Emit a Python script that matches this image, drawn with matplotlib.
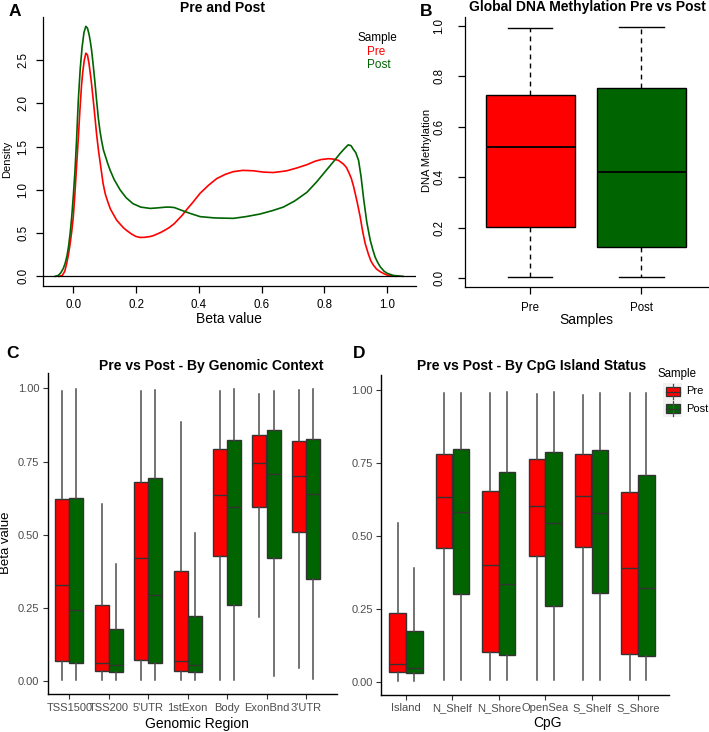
import matplotlib
matplotlib.use('Agg')
import matplotlib.pyplot as plt
from matplotlib.patches import Rectangle
from matplotlib.lines import Line2D

W, H = 709, 732
plt.rcParams['font.family'] = ['Liberation Sans', 'DejaVu Sans']

RED = '#FF0000'
GREEN = '#006400'

# ---------------- data ----------------
# Panel A: density curves (beta value, density)
pre_x = [-0.045, -0.035, -0.027, -0.021, -0.015, -0.01, -0.005, 0.0, 0.005, 0.01, 0.016, 0.021,
         0.026, 0.03, 0.035, 0.04, 0.045, 0.05, 0.055, 0.058, 0.062, 0.066, 0.07,
         0.074, 0.08, 0.085, 0.09, 0.095, 0.102, 0.11, 0.118, 0.127, 0.138, 0.15, 0.16, 0.17,
         0.185, 0.2, 0.212, 0.225, 0.235, 0.245, 0.255, 0.268, 0.28, 0.295, 0.308,
         0.322, 0.335, 0.348, 0.361, 0.382, 0.404, 0.43, 0.457, 0.485, 0.51, 0.54, 0.574,
         0.605, 0.637, 0.66, 0.68, 0.71, 0.744, 0.77, 0.79, 0.813, 0.83, 0.845,
         0.86, 0.87, 0.878, 0.886, 0.893, 0.9, 0.905, 0.91, 0.914, 0.922, 0.93, 0.94, 0.948,
         0.956, 0.966, 0.978, 0.99, 1.0, 1.015, 1.03]
pre_y = [0.0, 0.01, 0.06, 0.15, 0.26, 0.38, 0.52, 0.69, 0.95, 1.25, 1.6, 1.92,
         2.2, 2.36, 2.5, 2.58, 2.56, 2.46, 2.32, 2.23, 2.09, 1.95, 1.8,
         1.65, 1.46, 1.33, 1.2, 1.07, 0.95, 0.86, 0.78, 0.72, 0.65, 0.6, 0.56, 0.53,
         0.49, 0.46, 0.45, 0.45, 0.455, 0.46, 0.47, 0.49, 0.51, 0.54, 0.57,
         0.61, 0.66, 0.71, 0.77, 0.86, 0.96, 1.05, 1.13, 1.18, 1.21, 1.225, 1.22,
         1.205, 1.2, 1.21, 1.22, 1.25, 1.29, 1.33, 1.35, 1.36, 1.355, 1.34,
         1.3, 1.26, 1.2, 1.13, 1.04, 0.93, 0.85, 0.76, 0.69, 0.52, 0.38, 0.26, 0.18,
         0.13, 0.085, 0.053, 0.03, 0.015, 0.005, 0.0]
post_x = [-0.058, -0.048, -0.04, -0.032, -0.026, -0.02, -0.015, -0.01, -0.005, 0.0, 0.005,
          0.01, 0.016, 0.022, 0.028, 0.034, 0.04, 0.045, 0.05, 0.054, 0.058,
          0.062, 0.066, 0.07, 0.074, 0.08, 0.085, 0.09, 0.096, 0.103, 0.11, 0.117, 0.13,
          0.149, 0.168, 0.19, 0.215, 0.245, 0.265, 0.28, 0.295, 0.308, 0.322, 0.34, 0.37,
          0.404, 0.45, 0.51, 0.55, 0.595, 0.635, 0.669, 0.705, 0.744, 0.775, 0.807, 0.83,
          0.85, 0.865, 0.876, 0.885, 0.892, 0.9, 0.909, 0.917, 0.925, 0.935, 0.946, 0.955,
          0.962, 0.97, 0.978, 0.99, 1.0, 1.02, 1.05]
post_y = [0.0, 0.01, 0.04, 0.09, 0.15, 0.24, 0.35, 0.5, 0.69, 0.93, 1.2,
          1.55, 2.04, 2.4, 2.65, 2.82, 2.89, 2.87, 2.8, 2.72, 2.62,
          2.49, 2.35, 2.2, 2.04, 1.82, 1.68, 1.57, 1.46, 1.38, 1.3, 1.23, 1.12,
          1.0, 0.91, 0.84, 0.8, 0.785, 0.79, 0.795, 0.8, 0.8, 0.795, 0.77, 0.73,
          0.69, 0.675, 0.67, 0.69, 0.72, 0.76, 0.8, 0.87, 0.97, 1.09, 1.23, 1.33,
          1.42, 1.48, 1.52, 1.51, 1.47, 1.43, 1.34, 1.15, 0.9, 0.63, 0.42, 0.3,
          0.22, 0.16, 0.11, 0.06, 0.035, 0.01, 0.0]

# Panel B: global boxplot stats
B_samples = ['Pre', 'Post']
B_whislo = [0.005, 0.005]
B_q1 = [0.202, 0.122]
B_med = [0.521, 0.419]
B_q3 = [0.727, 0.754]
B_whishi = [0.993, 0.995]

# Panel C: by genomic context (whislo, q1, med, q3, whishi)
C_regions = ['TSS1500', 'TSS200', "5'UTR", '1stExon', 'Body', 'ExonBnd', "3'UTR"]
C_pre = [(0.004, 0.070, 0.328, 0.621, 0.992),
         (0.005, 0.034, 0.061, 0.262, 0.604),
         (0.004, 0.073, 0.420, 0.679, 0.992),
         (0.004, 0.036, 0.069, 0.376, 0.886),
         (0.004, 0.427, 0.635, 0.794, 0.992),
         (0.220, 0.594, 0.746, 0.841, 0.981),
         (0.044, 0.510, 0.700, 0.820, 0.995)]
C_post = [(0.004, 0.061, 0.242, 0.625, 0.998),
          (0.005, 0.031, 0.055, 0.180, 0.399),
          (0.004, 0.061, 0.293, 0.695, 0.995),
          (0.004, 0.031, 0.056, 0.223, 0.507),
          (0.004, 0.259, 0.596, 0.822, 0.998),
          (0.019, 0.422, 0.709, 0.857, 0.991),
          (0.008, 0.349, 0.638, 0.827, 0.997)]

# Panel D: by CpG island status
D_cpg = ['Island', 'N_Shelf', 'N_Shore', 'OpenSea', 'S_Shelf', 'S_Shore']
D_pre = [(0.002, 0.032, 0.060, 0.237, 0.545),
         (0.006, 0.460, 0.635, 0.781, 0.991),
         (0.005, 0.101, 0.399, 0.654, 0.990),
         (0.005, 0.431, 0.604, 0.765, 0.989),
         (0.006, 0.462, 0.636, 0.781, 0.985),
         (0.005, 0.096, 0.390, 0.650, 0.990)]
D_post = [(0.002, 0.029, 0.048, 0.175, 0.390),
          (0.006, 0.300, 0.584, 0.800, 0.991),
          (0.005, 0.093, 0.335, 0.721, 0.994),
          (0.005, 0.261, 0.545, 0.790, 0.994),
          (0.006, 0.304, 0.580, 0.796, 0.991),
          (0.005, 0.088, 0.321, 0.710, 0.991)]

# ---------------- figure ----------------
fig = plt.figure(figsize=(W / 100, H / 100), dpi=100)


def axes_px(l, t, r, b):
    return fig.add_axes([l / W, 1 - b / H, (r - l) / W, (b - t) / H])


def T(x, y, s, **kw):
    kw.setdefault('ha', 'center')
    kw.setdefault('va', 'center')
    fig.text(x / W, 1 - y / H, s, **kw)


def stats_list(rows):
    return [dict(whislo=r[0], q1=r[1], med=r[2], q3=r[3], whishi=r[4], fliers=[]) for r in rows]


# ---- Panel A ----
axA = axes_px(43, 17, 416, 286)
axA.plot(pre_x, pre_y, color=RED, lw=1.2, solid_joinstyle='round')
axA.plot(post_x, post_y, color=GREEN, lw=1.2, solid_joinstyle='round')
axA.axhline(0, color='black', lw=0.9)
axA.set_xlim(-0.0966, 1.092)
axA.set_ylim(-0.112, 2.998)
axA.set_xticks([0.0, 0.2, 0.4, 0.6, 0.8, 1.0])
axA.set_xticklabels(['0.0', '0.2', '0.4', '0.6', '0.8', '1.0'])
axA.set_yticks([0.0, 0.5, 1.0, 1.5, 2.0, 2.5])
axA.set_yticklabels(['0.0', '0.5', '1.0', '1.5', '2.0', '2.5'], rotation=90, va='center')

# ---- Panel B ----
axB = axes_px(465, 17, 708, 287)
bxB = axB.bxp(stats_list(list(zip(B_whislo, B_q1, B_med, B_q3, B_whishi))),
              positions=[1, 2], widths=0.8, patch_artist=True, showfliers=False,
              capwidths=0.4,
              boxprops=dict(edgecolor='black', linewidth=1.0),
              whiskerprops=dict(color='black', linewidth=1.0, linestyle=(0, (3.5, 3))),
              capprops=dict(color='black', linewidth=1.0),
              medianprops=dict(color='black', linewidth=1.3))
for p, c in zip(bxB['boxes'], [RED, GREEN]):
    p.set_facecolor(c)
axB.set_xlim(0.414, 2.6)
axB.set_ylim(-0.035, 1.035)
axB.set_xticks([1, 2])
axB.set_xticklabels(B_samples)
axB.set_yticks([0.0, 0.2, 0.4, 0.6, 0.8, 1.0])
axB.set_yticklabels(['0.0', '0.2', '0.4', '0.6', '0.8', '1.0'], rotation=90, va='center')

for ax in (axA, axB):
    for s in ('top', 'right'):
        ax.spines[s].set_visible(False)
    for s in ('left', 'bottom'):
        ax.spines[s].set_linewidth(0.9)
    ax.tick_params(direction='out', length=5, width=0.9, labelsize=8.3, colors='black')
axA.tick_params(axis='x', pad=4)
axA.tick_params(axis='y', pad=5)
axB.tick_params(axis='x', pad=6)
axB.tick_params(axis='y', pad=9)


# ---- Panels C & D (ggplot style) ----
def gg_box(ax, pre, post, cats, off=0.18, w=0.355):
    n = len(cats)
    pos = list(range(1, n + 1))
    common = dict(widths=w, patch_artist=True, showfliers=False, showcaps=False,
                  boxprops=dict(edgecolor='#333333', linewidth=1.0),
                  whiskerprops=dict(color='#4D4D4D', linewidth=1.1),
                  medianprops=dict(color='#333333', linewidth=1.0))
    b1 = ax.bxp(stats_list(pre), positions=[p - off for p in pos], **common)
    b2 = ax.bxp(stats_list(post), positions=[p + off for p in pos], **common)
    for p in b1['boxes']:
        p.set_facecolor(RED)
    for p in b2['boxes']:
        p.set_facecolor(GREEN)
    ax.set_xticks(pos)
    ax.set_xticklabels(cats)
    ax.set_yticks([0.0, 0.25, 0.5, 0.75, 1.0])
    ax.set_yticklabels(['0.00', '0.25', '0.50', '0.75', '1.00'])
    for s in ('top', 'right'):
        ax.spines[s].set_visible(False)
    for s in ('left', 'bottom'):
        ax.spines[s].set_linewidth(1.0)
        ax.spines[s].set_color('black')
    ax.tick_params(direction='out', length=3.5, width=0.8, color='#333333',
                   labelsize=8, labelcolor='#4D4D4D', pad=2.5)


axC = axes_px(47.5, 373, 337, 694.3)
gg_box(axC, C_pre, C_post, C_regions)
axC.set_xlim(0.447, 7.786)
axC.set_ylim(-0.0444, 1.052)

axD = axes_px(381, 375, 669, 695)
gg_box(axD, D_pre, D_post, D_cpg)
axD.set_xlim(0.461, 6.668)
axD.set_ylim(-0.0457, 1.053)

# ---------------- text ----------------
T(15, 12, 'A', fontsize=12.5, fontweight='bold')
T(426, 11, 'B', fontsize=12.5, fontweight='bold')
T(12.5, 354, 'C', fontsize=12.5, fontweight='bold')
T(359, 354, 'D', fontsize=12.5, fontweight='bold')

T(222, 8, 'Pre and Post', fontsize=10, fontweight='bold')
T(229, 319, 'Beta value', fontsize=10)
T(7, 159, 'Density', fontsize=8, rotation=90)
T(357, 38, 'Sample', fontsize=8.5, ha='left')
T(367, 52, 'Pre', fontsize=8.5, ha='left', color=RED)
T(367, 65, 'Post', fontsize=8.5, ha='left', color=GREEN)

T(587, 7, 'Global DNA Methylation Pre vs Post', fontsize=10, fontweight='bold')
T(427, 150, 'DNA Methylation', fontsize=8, rotation=90)
T(586, 320, 'Samples', fontsize=10)

T(211.5, 366, 'Pre vs Post - By Genomic Context', fontsize=10, fontweight='bold')
T(6, 543, 'Beta value', fontsize=9.5, rotation=90)
T(197, 724, 'Genomic Region', fontsize=10)

T(532, 366, 'Pre vs Post - By CpG Island Status', fontsize=10, fontweight='bold')
T(547, 723, 'CpG', fontsize=10)

# legend for D
T(658, 374, 'Sample', fontsize=8.3, ha='left')
for i, (lab, col) in enumerate([('Pre', RED), ('Post', GREEN)]):
    top = 383 + i * 17
    fig.patches.append(Rectangle((663 / W, 1 - (top + 17) / H), 19 / W, 17 / H,
                                 transform=fig.transFigure, facecolor='#F2F2F2',
                                 edgecolor='none'))
    xc = 672.5
    fig.lines.append(Line2D([xc / W, xc / W], [1 - (top + 1) / H, 1 - (top + 16) / H],
                            transform=fig.transFigure, color='#4D4D4D', lw=0.9))
    fig.patches.append(Rectangle((665.5 / W, 1 - (top + 13) / H), 14 / W, 9 / H,
                                 transform=fig.transFigure, facecolor=col,
                                 edgecolor='#333333', lw=0.9))
    fig.lines.append(Line2D([665.5 / W, 679.5 / W], [1 - (top + 8.5) / H, 1 - (top + 8.5) / H],
                            transform=fig.transFigure, color='#333333', lw=0.9))
    T(686, top + 8.5, lab, fontsize=8, ha='left')

fig.savefig('out.png', dpi=100)
